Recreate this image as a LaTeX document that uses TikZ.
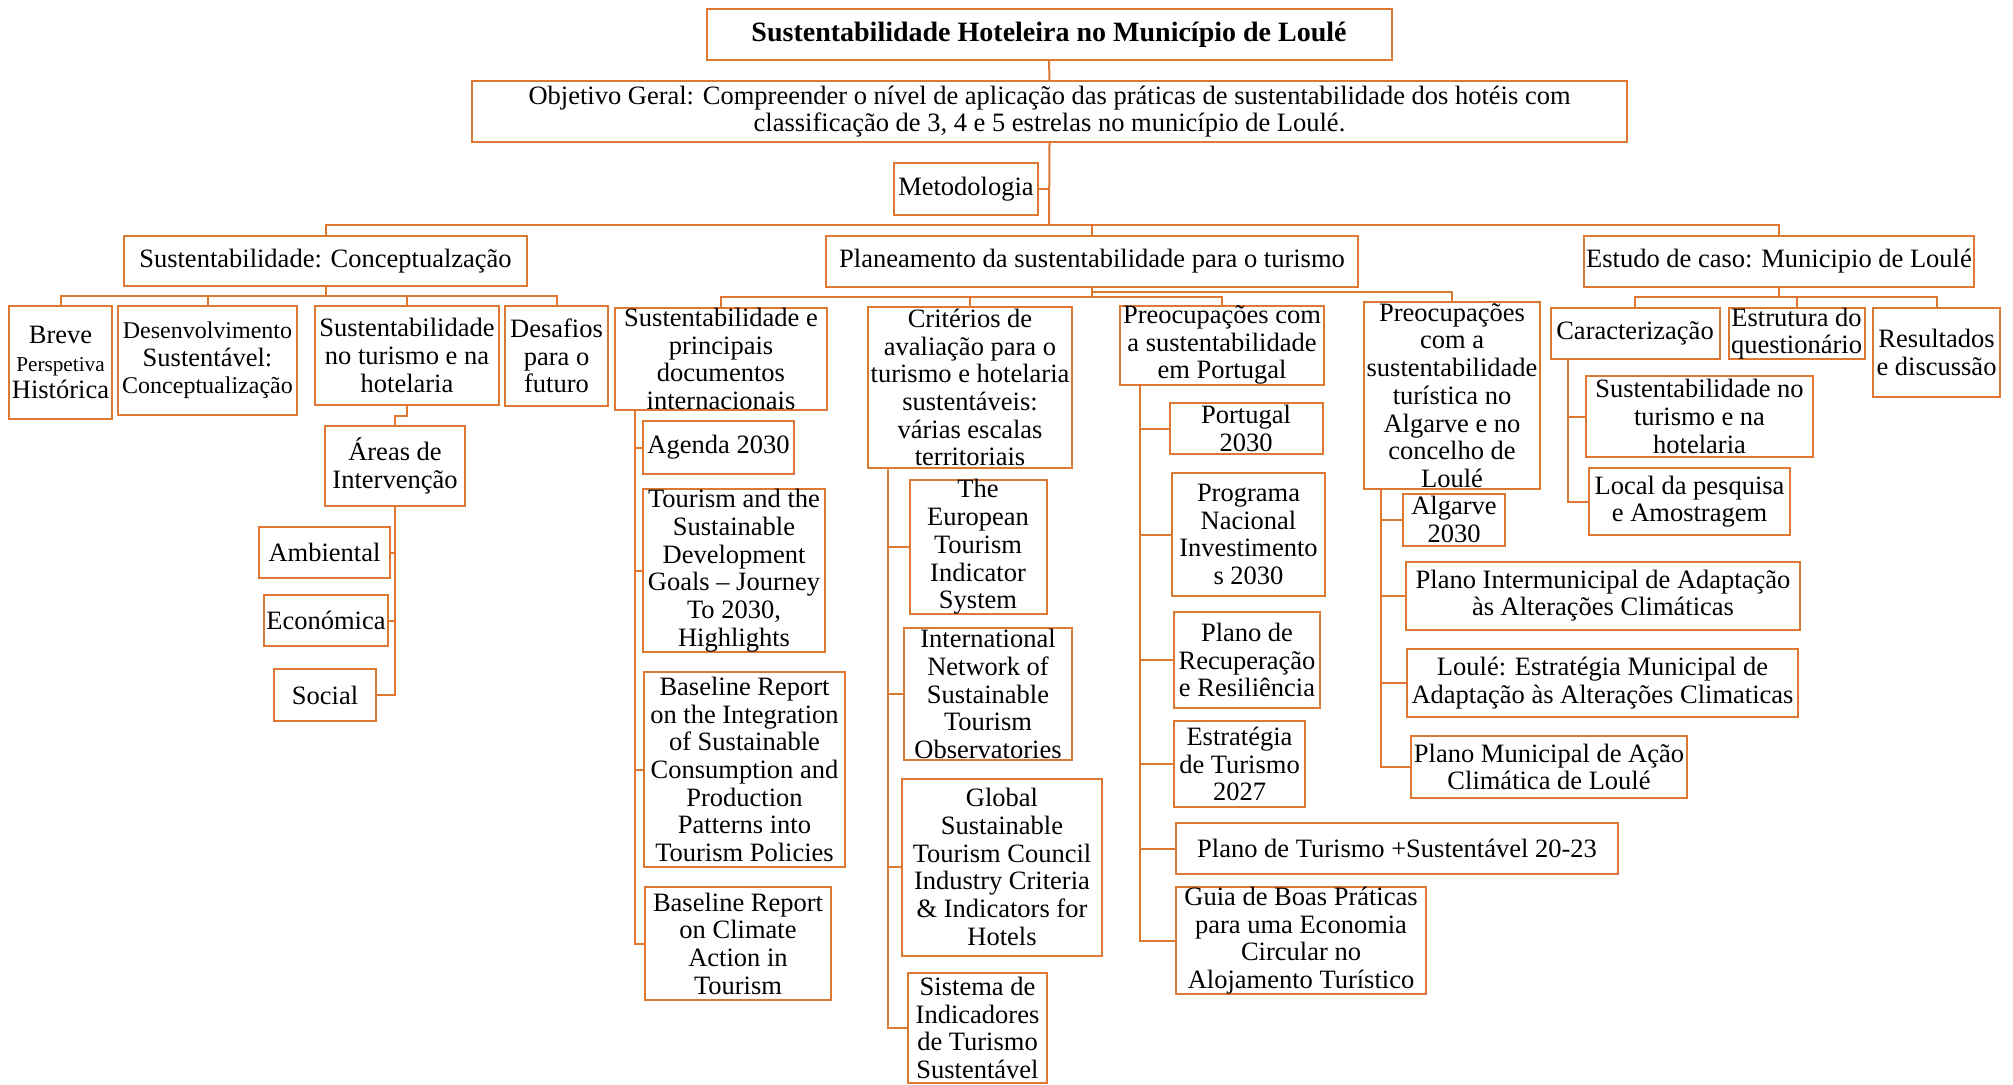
\documentclass[tikz,border=0pt]{standalone}
\usepackage{fontspec}
\setmainfont{Liberation Serif}
\definecolor{MyOrange}{RGB}{222, 120, 50}
\newcommand{\lw}{1pt}
\newcommand{\smallfs}{\fontsize{12}{13.4}\selectfont}
\newcommand{\tinyfs}{\fontsize{10.6}{13}\selectfont}
\tikzset{
  box/.style={draw=MyOrange, line width=\lw, inner sep=0pt, align=center,
    font=\fontsize{13.25}{13.85}\selectfont},
  bx/.style 2 args={minimum width=#1*0.5pt, minimum height=#2*0.5pt},
  link/.style={draw=MyOrange, line width=\lw},
}

\begin{document}
\begin{tikzpicture}[x=0.5pt, y=-0.5pt]
  \path[use as bounding box, fill=white] (0,0) rectangle (2013,1084);

  % top levels
  \node[box, bx={685}{51}, font=\fontsize{14}{15}\selectfont\bfseries] (title) at (1049,34.5) {Sustentabilidade Hoteleira no Município de Loulé};
  \node[box, bx={1155}{61}] (obj) at (1049.5,111.5) {Objetivo Geral: Compreender o nível de aplicação das práticas de sustentabilidade dos hotéis com\\classificação de 3, 4 e 5 estrelas no município de Loulé.};
  \node[box, bx={144}{52}] (met) at (966,189) {Metodologia};
  \node[box, bx={403}{50}] (conc) at (325.5,261) {Sustentabilidade: Conceptualzação};
  \node[box, bx={532}{51}] (plan) at (1092,261.5) {Planeamento da sustentabilidade para o turismo};
  \node[box, bx={390}{51}] (estudo) at (1779,261.5) {Estudo de caso: Municipio de Loulé};

  % conceptualizacao
  \node[box, bx={103}{113}] (breve) at (60.5,362.5) {Breve\\{\tinyfs Perspetiva}\\Histórica};
  \node[box, bx={179}{109}] (desenv) at (207.5,360.5) {{\smallfs Desenvolvimento}\\Sustentável:\\{\smallfs Conceptualização}};
  \node[box, bx={184}{99}] (sustur) at (407,355.5) {Sustentabilidade\\no turismo e na\\hotelaria};
  \node[box, bx={103}{100}] (desaf) at (556.5,356) {Desafios\\para o\\futuro};
  \node[box, bx={140}{80}] (areas) at (395,466) {Áreas de\\Intervenção};
  \node[box, bx={131}{51}] (amb) at (324.5,552.5) {Ambiental};
  \node[box, bx={124.5}{51}] (econ) at (326,620.5) {Económica};
  \node[box, bx={102}{52}] (social) at (325,695) {Social};

  % planeamento
  \node[box, bx={212}{102}] (sdocs) at (721,359) {Sustentabilidade e\\principais\\documentos\\internacionais};
  \node[box, bx={151}{53}] (agenda) at (718.5,447.5) {Agenda 2030};
  \node[box, bx={181.5}{161}] (sdg) at (734,570.5) {Tourism and the\\Sustainable\\Development\\Goals – Journey\\To 2030,\\Highlights};
  \node[box, bx={201}{195}] (bint) at (744.5,769.5) {Baseline Report\\on the Integration\\of Sustainable\\Consumption and\\Production\\Patterns into\\Tourism Policies};
  \node[box, bx={186}{113}] (bclim) at (738,943.5) {Baseline Report\\on Climate\\Action in\\Tourism};

  \node[box, bx={204}{161}] (crit) at (970,387.5) {Critérios de\\avaliação para o\\turismo e hotelaria\\sustentáveis:\\várias escalas\\territoriais};
  \node[box, bx={137}{132}] (etis) at (978,547) {The\\European\\Tourism\\Indicator\\System};
  \node[box, bx={168}{132}] (inst) at (988,694) {International\\Network of\\Sustainable\\Tourism\\Observatories};
  \node[box, bx={200}{177}] (gstc) at (1002,867) {Global\\Sustainable\\Tourism Council\\Industry Criteria\\\& Indicators for\\Hotels};
  \node[box, bx={139}{110}] (sist) at (977.5,1028) {Sistema de\\Indicadores\\de Turismo\\Sustentável};

  \node[box, bx={204}{74}] (ppt) at (1222,345) {Preocupações com\\a sustentabilidade\\em Portugal};
  \node[box, bx={153}{51}] (pt2030) at (1246,428.5) {Portugal\\2030};
  \node[box, bx={153}{123}] (pni) at (1248.5,534.5) {Programa\\Nacional\\Investimento\\s 2030};
  \node[box, bx={146}{96}] (prr) at (1247,660) {Plano de\\Recuperação\\e Resiliência};
  \node[box, bx={131}{86}] (et2027) at (1239.5,764) {Estratégia\\de Turismo\\2027};
  \node[box, bx={442}{51}] (pts) at (1397,848.5) {Plano de Turismo +Sustentável 20-23};
  \node[box, bx={250}{107}] (guia) at (1301,940.5) {Guia de Boas Práticas\\para uma Economia\\Circular no\\Alojamento Turístico};

  \node[box, bx={176}{187}] (palg) at (1452,395.5) {Preocupações\\com a\\sustentabilidade\\turística no\\Algarve e no\\concelho de\\Loulé};
  \node[box, bx={101.5}{52}] (alg2030) at (1454,519.5) {Algarve\\2030};
  \node[box, bx={394}{68}] (pimac) at (1603,595.5) {Plano Intermunicipal de Adaptação\\às Alterações Climáticas};
  \node[box, bx={391}{67.5}] (loule) at (1602.5,683) {Loulé: Estratégia Municipal de\\Adaptação às Alterações Climaticas};
  \node[box, bx={276}{62}] (pmac) at (1549,767) {Plano Municipal de Ação\\Climática de Loulé};

  % estudo de caso
  \node[box, bx={169}{51.5}] (carac) at (1635,333.5) {Caracterização};
  \node[box, bx={136}{51.5}] (estq) at (1796.5,333.5) {Estrutura do\\questionário};
  \node[box, bx={127}{89.5}] (result) at (1936.5,352.5) {Resultados\\e discussão};
  \node[box, bx={226.5}{81}] (stnh) at (1699.5,416.5) {Sustentabilidade no\\turismo e na\\hotelaria};
  \node[box, bx={200.5}{66.5}] (local) at (1689.5,501.5) {Local da pesquisa\\e Amostragem};

  % connectors
  \coordinate (bus) at (1049,225);
  \draw[link] (title.south) -- (obj.north);
  \draw[link] (obj.south) -- (bus);
  \draw[link] (met.east) -- (met.east -| bus);
  \foreach \c in {conc,plan,estudo} \draw[link] (\c.north) |- (bus);

  \coordinate (cbus) at (325.5,296);
  \draw[link] (conc.south) -- (cbus);
  \foreach \c in {breve,desenv,sustur,desaf} \draw[link] (\c.north) |- (cbus);
  \draw[link] (sustur.south) -- ++(0,10) -| (areas.north);
  \foreach \c in {amb,econ,social} \draw[link] (areas.south) |- (\c.east);

  \coordinate (pbus) at (1092,297);
  \coordinate (qbus) at (1092,292);
  \draw[link] (plan.south) -- (pbus);
  \foreach \c in {sdocs,crit,ppt} \draw[link] (\c.north) |- (pbus);
  \draw[link] (palg.north) |- (qbus);

  \coordinate (ebus) at (1779,297);
  \draw[link] (estudo.south) -- (ebus);
  \foreach \c in {carac,estq,result} \draw[link] (\c.north) |- (ebus);

  % side rails
  \foreach \c in {agenda,sdg,bint,bclim} \draw[link] ([xshift=10.5pt]sdocs.south west) |- (\c.west);
  \foreach \c in {etis,inst,gstc,sist} \draw[link] ([xshift=10.5pt]crit.south west) |- (\c.west);
  \foreach \c in {pt2030,pni,prr,et2027,pts,guia} \draw[link] ([xshift=10.5pt]ppt.south west) |- (\c.west);
  \foreach \c in {alg2030,pimac,loule,pmac} \draw[link] ([xshift=9pt]palg.south west) |- (\c.west);
  \foreach \c in {stnh,local} \draw[link] ([xshift=9pt]carac.south west) |- (\c.west);
\end{tikzpicture}
\end{document}
